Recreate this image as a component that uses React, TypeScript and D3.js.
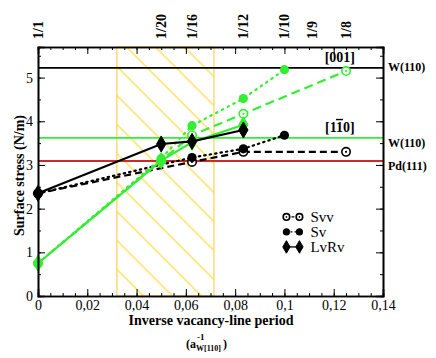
import { useEffect, useRef } from "react";
import * as d3 from "d3";

// inverse period tick values and labels
const xTicks = [0, 0.02, 0.04, 0.06, 0.08, 0.1, 0.12, 0.14];
const yTicks = [0, 1, 2, 3, 4, 5];
const topLabels = ["1/1", "1/20", "1/16", "1/12", "1/10", "1/9", "1/8"];
const topPositions = [0, 1 / 20, 1 / 16, 1 / 12, 1 / 10, 1 / 9, 1 / 8];

// reference surface stresses
const refLines = [
  { name: "W(110)", value: 5.22, color: "#000000" },
  { name: "W(110)", value: 3.62, color: "#33ee33" },
  { name: "Pd(111)", value: 3.09, color: "#cc2a2a" },
];

// hatched range (period window)
const hatchRange = [0.032, 0.0714];

// [1-10] direction (black)
const blackSvv = [[0, 2.35], [0.0625, 3.07], [1 / 12, 3.3], [0.125, 3.3]];
const blackSv = [[0, 2.35], [0.0625, 3.17], [1 / 12, 3.37], [0.1, 3.68]];
const blackLvRv = [[0, 2.35], [0.05, 3.48], [0.0625, 3.54], [1 / 12, 3.8]];

// [001] direction (green)
const greenSvv = [[0, 0.75], [0.05, 3.1], [0.0625, 3.68], [1 / 12, 4.17], [0.125, 5.15]];
const greenSv = [[0, 0.75], [0.05, 3.15], [0.0625, 3.9], [1 / 12, 4.52], [0.1, 5.18]];
const greenLvRv = [[0, 0.75], [0.05, 3.1], [0.0625, 3.52], [1 / 12, 3.92]];

const legendNames = ["Svv", "Sv", "LvRv"];

const GREEN = "#33ee33";

export default function App() {
  const ref = useRef<SVGSVGElement>(null);

  useEffect(() => {
    const svg = d3.select(ref.current);
    svg.selectAll("*").remove();

    const margin = { top: 47, right: 53, bottom: 62, left: 38 };
    const width = 436;
    const height = 358;
    const innerW = width - margin.left - margin.right;
    const innerH = height - margin.top - margin.bottom;
    const serif = "'Liberation Serif', 'DejaVu Serif', serif";

    const x = d3.scaleLinear().domain([0, 0.14]).range([0, innerW]);
    const y = d3.scaleLinear().domain([0, 5.7]).range([innerH, 0]);

    const g = svg.append("g").attr("transform", `translate(${margin.left},${margin.top})`);

    // hatch pattern: "\" lines, ~29px apart horizontally
    const defs = svg.append("defs");
    const pat = defs
      .append("pattern")
      .attr("id", "hatch")
      .attr("patternUnits", "userSpaceOnUse")
      .attr("width", 20.5)
      .attr("height", 20.5)
      .attr("patternTransform", "rotate(-45)");
    pat.append("rect").attr("width", 20.5).attr("height", 20.5).attr("fill", "#fff");
    pat.append("line")
      .attr("x1", 1).attr("y1", -1).attr("x2", 1).attr("y2", 22)
      .attr("stroke", "#ffd633").attr("stroke-width", 1.1);

    g.append("rect")
      .attr("x", x(hatchRange[0]))
      .attr("y", 0)
      .attr("width", x(hatchRange[1]) - x(hatchRange[0]))
      .attr("height", innerH)
      .attr("fill", "url(#hatch)")
      .attr("stroke", "#ffd34d")
      .attr("stroke-width", 1.2);

    // reference lines
    g.selectAll(".ref")
      .data(refLines)
      .join("line")
      .attr("x1", 0)
      .attr("x2", innerW)
      .attr("y1", d => y(d.value))
      .attr("y2", d => y(d.value))
      .attr("stroke", d => d.color)
      .attr("stroke-width", 1.8);

    const labelDy = [3, 9, 9];
    g.selectAll(".reflabel")
      .data(refLines)
      .join("text")
      .attr("x", innerW + 5)
      .attr("y", (d, i) => y(d.value) + labelDy[i])
      .attr("font-family", serif)
      .attr("font-weight", "bold")
      .attr("font-size", 12)
      .text(d => d.name);

    // direction labels
    g.append("text")
      .attr("x", x(0.1225)).attr("y", y(5.22) - 6)
      .attr("text-anchor", "middle")
      .attr("font-family", serif).attr("font-weight", "bold").attr("font-size", 14)
      .text("[001]");
    const t110 = g.append("text")
      .attr("x", x(0.1225)).attr("y", y(3.62) - 6)
      .attr("text-anchor", "middle")
      .attr("font-family", serif).attr("font-weight", "bold").attr("font-size", 14);
    t110.append("tspan").text("[1");
    t110.append("tspan").attr("text-decoration", "overline").text("1");
    t110.append("tspan").text("0]");

    const line = d3.line<number[]>().x(d => x(d[0])).y(d => y(d[1]));

    const series = [
      { data: blackSvv, color: "#000", dash: "7,4", marker: "open" },
      { data: blackSv, color: "#000", dash: "1.5,4", marker: "filled" },
      { data: greenSvv, color: GREEN, dash: "9,5", marker: "open" },
      { data: greenSv, color: GREEN, dash: "1.5,5", marker: "filled" },
      { data: greenLvRv, color: GREEN, dash: null, marker: "diamond" },
      { data: blackLvRv, color: "#000", dash: null, marker: "diamond" },
    ];

    function drawMarker(sel: any, kind: string, color: string, cx: number, cy: number, s = 1) {
      if (kind === "open") {
        sel.append("circle").attr("cx", cx).attr("cy", cy).attr("r", 4.2 * s)
          .attr("fill", "#fff").attr("stroke", color).attr("stroke-width", 1.6);
        sel.append("circle").attr("cx", cx).attr("cy", cy).attr("r", 1.1 * s).attr("fill", color);
      } else if (kind === "filled") {
        sel.append("circle").attr("cx", cx).attr("cy", cy).attr("r", 4.6 * s).attr("fill", color);
      } else {
        const diamond = d3.symbol().type(d3.symbolDiamond).size(75 * s * s);
        sel.append("path").attr("d", diamond()).attr("transform", `translate(${cx},${cy})`)
          .attr("fill", color).attr("stroke", color).attr("stroke-width", 1);
      }
    }

    series.forEach(s => {
      g.append("path")
        .datum(s.data)
        .attr("fill", "none")
        .attr("stroke", s.color)
        .attr("stroke-width", 2.2)
        .attr("stroke-dasharray", s.dash)
        .attr("stroke-linecap", s.dash && s.dash.startsWith("1.5") ? "round" : "butt")
        .attr("d", line);
      s.data.forEach(d => drawMarker(g, s.marker, s.color, x(d[0]), y(d[1])));
    });

    // axes
    const fmt = (v: number) => (v === 0 ? "0" : String(+v.toFixed(2)).replace(".", ","));
    const minorX = d3.range(0, 0.1401, 0.005);
    const minorY = d3.range(0, 5.7, 0.5);

    const bottom = g.append("g").attr("transform", `translate(0,${innerH})`);
    bottom.call(d3.axisBottom(x).tickValues(minorX).tickSize(-3).tickFormat(() => ""));
    const bMaj = g.append("g").attr("transform", `translate(0,${innerH})`);
    bMaj.call(d3.axisBottom(x).tickValues(xTicks).tickSize(-7).tickPadding(4).tickFormat(d => fmt(+d)));

    const top = g.append("g");
    top.call(d3.axisTop(x).tickValues(minorX).tickSize(-3).tickFormat(() => ""));
    const tMaj = g.append("g");
    tMaj.call(d3.axisTop(x).tickValues(xTicks).tickSize(-7).tickFormat(() => ""));

    const left = g.append("g");
    left.call(d3.axisLeft(y).tickValues(minorY).tickSize(-3).tickFormat(() => ""));
    const lMaj = g.append("g");
    lMaj.call(d3.axisLeft(y).tickValues(yTicks).tickSize(-7).tickPadding(5).tickFormat(d => String(d)));

    const right = g.append("g").attr("transform", `translate(${innerW},0)`);
    right.call(d3.axisRight(y).tickValues(minorY).tickSize(-3).tickFormat(() => ""));
    const rMaj = g.append("g").attr("transform", `translate(${innerW},0)`);
    rMaj.call(d3.axisRight(y).tickValues(yTicks).tickSize(-7).tickFormat(() => ""));

    g.selectAll(".domain").attr("stroke", "#000").attr("stroke-width", 1.6);
    g.selectAll(".tick line").attr("stroke", "#000").attr("stroke-width", 1);
    g.selectAll(".tick text")
      .attr("font-family", serif)
      .attr("font-size", 14)
      .attr("fill", "#000");

    // top inverse-period labels
    g.selectAll(".toplabel")
      .data(topLabels)
      .join("text")
      .attr("transform", (d, i) => `translate(${x(topPositions[i])},-8) rotate(-90)`)
      .attr("dy", "0.35em")
      .attr("font-family", serif)
      .attr("font-weight", "bold")
      .attr("font-size", 14)
      .text(d => d);

    // legend
    const lg = g.append("g").attr("transform", `translate(${x(0.1) + 2},${y(1.81)})`);
    const legendKinds = ["open", "filled", "diamond"];
    const legendDash = ["3,2", "2,2", null];
    legendNames.forEach((name, i) => {
      const ly = i * 15;
      lg.append("line")
        .attr("x1", 0).attr("x2", 13).attr("y1", ly).attr("y2", ly)
        .attr("stroke", "#000").attr("stroke-width", 1.3)
        .attr("stroke-dasharray", legendDash[i]);
      drawMarker(lg, legendKinds[i], "#000", 0, ly, 0.78);
      drawMarker(lg, legendKinds[i], "#000", 13, ly, 0.78);
      lg.append("text")
        .attr("x", 24).attr("y", ly + 5)
        .attr("font-family", serif)
        .attr("font-size", 15)
        .text(name);
    });

    // axis titles
    svg.append("text")
      .attr("transform", `translate(19,${margin.top + innerH / 2 + 4}) rotate(-90)`)
      .attr("text-anchor", "middle")
      .attr("dy", "0.35em")
      .attr("font-family", serif)
      .attr("font-weight", "bold")
      .attr("font-size", 14)
      .text("Surface stress (N/m)");

    svg.append("text")
      .attr("x", 211).attr("y", 325)
      .attr("text-anchor", "middle")
      .attr("font-family", serif)
      .attr("font-weight", "bold")
      .attr("font-size", 14)
      .text("Inverse vacancy-line period");

    const unit = svg.append("g").attr("font-family", serif).attr("font-weight", "bold");
    unit.append("text").attr("x", 186).attr("y", 348).attr("font-size", 12).text("(a");
    unit.append("text").attr("x", 197).attr("y", 340).attr("font-size", 9).text("-1");
    unit.append("text").attr("x", 196).attr("y", 351).attr("font-size", 8).text("W[110]");
    unit.append("text").attr("x", 223).attr("y", 348).attr("font-size", 12).text(")");
  }, []);

  return (
    <svg
      ref={ref}
      width={436}
      height={358}
      style={{ position: "absolute", left: 0, top: 0, background: "#fff" }}
    />
  );
}
